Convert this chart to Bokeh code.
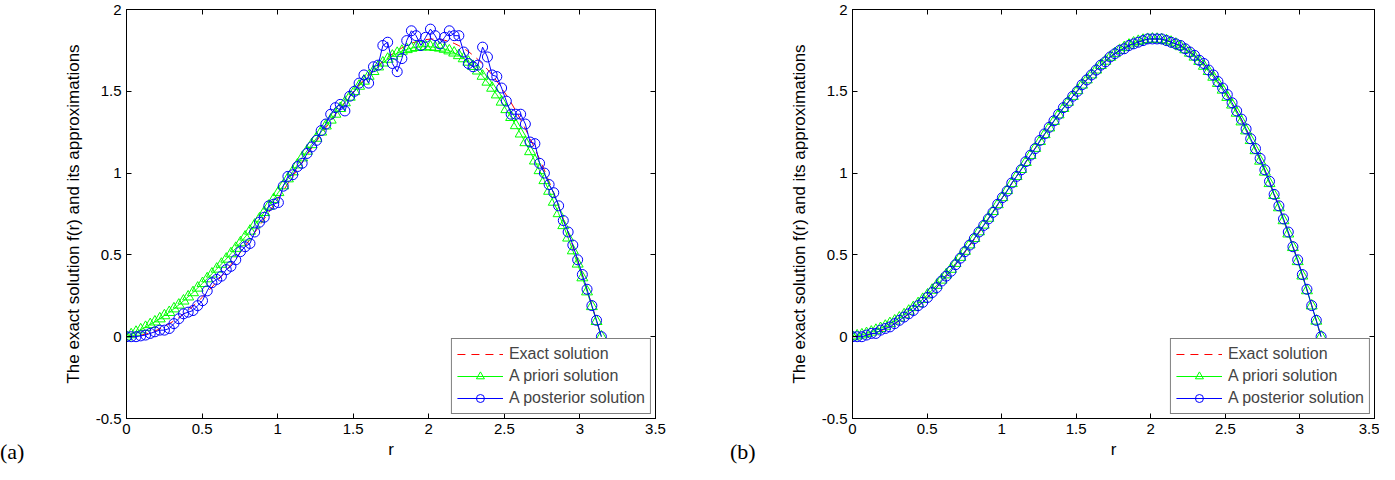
from bokeh.plotting import figure
from bokeh.models import (Range1d, LinearAxis, FixedTicker, Legend, LegendItem,
                          Div, CustomLabelingPolicy)
from bokeh.layouts import row, column
from bokeh.embed import file_html
from bokeh.resources import INLINE

# radial grid r (0 .. pi, 101 points)
r = [0.000, 0.031, 0.063, 0.094, 0.126, 0.157, 0.188, 0.220, 0.251, 0.283,
     0.314, 0.346, 0.377, 0.408, 0.440, 0.471, 0.503, 0.534, 0.565, 0.597,
     0.628, 0.660, 0.691, 0.723, 0.754, 0.785, 0.817, 0.848, 0.880, 0.911,
     0.942, 0.974, 1.005, 1.037, 1.068, 1.100, 1.131, 1.162, 1.194, 1.225,
     1.257, 1.288, 1.319, 1.351, 1.382, 1.414, 1.445, 1.477, 1.508, 1.539,
     1.571, 1.602, 1.634, 1.665, 1.696, 1.728, 1.759, 1.791, 1.822, 1.854,
     1.885, 1.916, 1.948, 1.979, 2.011, 2.042, 2.073, 2.105, 2.136, 2.168,
     2.199, 2.231, 2.262, 2.293, 2.325, 2.356, 2.388, 2.419, 2.450, 2.482,
     2.513, 2.545, 2.576, 2.608, 2.639, 2.670, 2.702, 2.733, 2.765, 2.796,
     2.827, 2.859, 2.890, 2.922, 2.953, 2.985, 3.016, 3.047, 3.079, 3.110,
     3.142]

exact = [0.000, 0.001, 0.004, 0.009, 0.016, 0.025, 0.035, 0.048, 0.063, 0.079,
         0.097, 0.117, 0.139, 0.162, 0.187, 0.214, 0.242, 0.272, 0.303, 0.336,
         0.369, 0.404, 0.441, 0.478, 0.516, 0.555, 0.595, 0.636, 0.678, 0.720,
         0.762, 0.805, 0.849, 0.892, 0.936, 0.980, 1.023, 1.067, 1.110, 1.153,
         1.195, 1.237, 1.278, 1.318, 1.358, 1.396, 1.434, 1.470, 1.505, 1.539,
         1.571, 1.601, 1.630, 1.658, 1.683, 1.707, 1.728, 1.748, 1.765, 1.780,
         1.793, 1.803, 1.811, 1.816, 1.819, 1.819, 1.817, 1.812, 1.804, 1.793,
         1.779, 1.762, 1.743, 1.720, 1.695, 1.666, 1.634, 1.600, 1.562, 1.521,
         1.477, 1.430, 1.380, 1.327, 1.271, 1.212, 1.150, 1.085, 1.018, 0.947,
         0.874, 0.798, 0.719, 0.637, 0.553, 0.467, 0.378, 0.287, 0.193, 0.098,
         0.000]

priori_a = [0.000, 0.013, 0.028, 0.043, 0.058, 0.075, 0.091, 0.110, 0.129, 0.149,
            0.171, 0.194, 0.219, 0.244, 0.270, 0.298, 0.326, 0.355, 0.384, 0.414,
            0.444, 0.475, 0.508, 0.541, 0.575, 0.610, 0.646, 0.683, 0.721, 0.760,
            0.799, 0.840, 0.882, 0.923, 0.966, 1.009, 1.051, 1.094, 1.135, 1.175,
            1.214, 1.252, 1.289, 1.325, 1.361, 1.396, 1.431, 1.465, 1.499, 1.532,
            1.563, 1.593, 1.622, 1.650, 1.674, 1.697, 1.716, 1.733, 1.746, 1.756,
            1.764, 1.769, 1.772, 1.773, 1.772, 1.769, 1.765, 1.758, 1.748, 1.735,
            1.719, 1.700, 1.679, 1.653, 1.625, 1.593, 1.557, 1.520, 1.479, 1.435,
            1.389, 1.341, 1.291, 1.240, 1.187, 1.132, 1.075, 1.016, 0.955, 0.890,
            0.823, 0.753, 0.680, 0.604, 0.526, 0.445, 0.361, 0.275, 0.185, 0.094,
            0.000]

posterior_a = [0.00, 0.00, 0.00, 0.005, 0.01, 0.02, 0.03, 0.04, 0.04, 0.05,
               0.08, 0.11, 0.14, 0.15, 0.16, 0.19, 0.22, 0.28, 0.33, 0.35,
               0.37, 0.41, 0.43, 0.47, 0.52, 0.55, 0.57, 0.64, 0.70, 0.73,
               0.80, 0.81, 0.82, 0.92, 0.98, 0.99, 1.04, 1.06, 1.12, 1.16,
               1.20, 1.26, 1.30, 1.36, 1.40, 1.42, 1.38, 1.47, 1.50, 1.55,
               1.60, 1.55, 1.65, 1.66, 1.78, 1.80, 1.67, 1.62, 1.70, 1.81,
               1.87, 1.84, 1.78, 1.83, 1.88, 1.84, 1.79, 1.83, 1.87, 1.84,
               1.84, 1.74, 1.67, 1.65, 1.66, 1.77, 1.71, 1.60, 1.59, 1.52,
               1.44, 1.36, 1.36, 1.36, 1.30, 1.19, 1.18, 1.06, 1.00, 0.93,
               0.88, 0.80, 0.71, 0.64, 0.56, 0.47, 0.38, 0.29, 0.19, 0.10,
               0.00]

priori_b = [0.000, 0.006, 0.012, 0.020, 0.029, 0.040, 0.051, 0.065, 0.081, 0.097,
            0.115, 0.135, 0.157, 0.179, 0.203, 0.229, 0.256, 0.285, 0.315, 0.347,
            0.379, 0.413, 0.449, 0.486, 0.523, 0.562, 0.601, 0.642, 0.683, 0.725,
            0.766, 0.808, 0.851, 0.894, 0.937, 0.980, 1.023, 1.066, 1.109, 1.152,
            1.194, 1.236, 1.277, 1.317, 1.357, 1.396, 1.434, 1.470, 1.505, 1.539,
            1.571, 1.601, 1.631, 1.659, 1.685, 1.709, 1.731, 1.751, 1.768, 1.783,
            1.796, 1.806, 1.813, 1.818, 1.820, 1.819, 1.816, 1.810, 1.801, 1.789,
            1.774, 1.755, 1.734, 1.710, 1.684, 1.654, 1.622, 1.587, 1.549, 1.508,
            1.464, 1.417, 1.367, 1.314, 1.259, 1.200, 1.138, 1.074, 1.007, 0.937,
            0.864, 0.789, 0.710, 0.629, 0.546, 0.460, 0.372, 0.282, 0.189, 0.096,
            0.000]

posterior_b = [0.00, 0.00, 0.00, 0.01, 0.02, 0.02, 0.04, 0.05, 0.06, 0.08,
               0.10, 0.12, 0.14, 0.16, 0.19, 0.21, 0.24, 0.27, 0.30, 0.34,
               0.37, 0.40, 0.44, 0.48, 0.52, 0.56, 0.60, 0.64, 0.68, 0.72,
               0.76, 0.81, 0.85, 0.89, 0.94, 0.98, 1.02, 1.07, 1.11, 1.15,
               1.20, 1.24, 1.28, 1.32, 1.36, 1.40, 1.43, 1.47, 1.50, 1.54,
               1.57, 1.60, 1.63, 1.66, 1.68, 1.71, 1.73, 1.75, 1.76, 1.78,
               1.79, 1.80, 1.81, 1.82, 1.82, 1.82, 1.82, 1.81, 1.80, 1.79,
               1.78, 1.76, 1.74, 1.72, 1.69, 1.67, 1.63, 1.60, 1.56, 1.52,
               1.48, 1.43, 1.38, 1.33, 1.27, 1.21, 1.15, 1.09, 1.02, 0.95,
               0.87, 0.80, 0.72, 0.64, 0.55, 0.47, 0.38, 0.29, 0.19, 0.10,
               0.00]

x_ticks = [0, 0.5, 1, 1.5, 2, 2.5, 3, 3.5]
x_tick_labels = ["0", "0.5", "1", "1.5", "2", "2.5", "3", "3.5"]
y_ticks = [-0.5, 0, 0.5, 1, 1.5, 2]
y_tick_labels = ["-0.5", "0", "0.5", "1", "1.5", "2"]

series_names = ["Exact solution", "A priori solution", "A posterior solution"]
y_label = "The exact solution f(r) and its approximations"
x_label = "r"
panel_tags = ["(a)", "(b)"]

FONT = "Liberation Sans"


def style_axis(ax, ticks, labels, show_labels=True):
    ax.ticker = FixedTicker(ticks=ticks)
    ax.minor_tick_line_color = None
    ax.major_tick_in = 5
    ax.major_tick_out = 0
    ax.axis_line_color = "black"
    ax.major_tick_line_color = "black"
    ax.major_label_text_font = FONT
    ax.major_label_text_color = "black"
    if show_labels:
        ax.major_label_overrides = {t: l for t, l in zip(ticks, labels)}
        ax.major_label_text_font_size = "15px"
        ax.major_label_standoff = 5
    else:
        ax.major_label_policy = CustomLabelingPolicy(code="")
        ax.major_label_text_font_size = "1px"
        ax.major_label_standoff = 0


def make_panel(priori, posterior, width, left, right):
    p = figure(width=width, height=464,
               x_range=Range1d(0, 3.5), y_range=Range1d(-0.5, 2),
               output_backend="svg", toolbar_location=None,
               min_border_left=left, min_border_right=right,
               min_border_top=9, min_border_bottom=46)
    p.xgrid.visible = False
    p.ygrid.visible = False
    p.outline_line_color = "black"
    p.outline_line_alpha = 1.0
    p.background_fill_color = "white"
    p.border_fill_color = "white"

    style_axis(p.xaxis[0], x_ticks, x_tick_labels)
    style_axis(p.yaxis[0], y_ticks, y_tick_labels)
    p.xaxis.axis_label = x_label
    p.yaxis.axis_label = y_label
    for ax in (p.xaxis[0], p.yaxis[0]):
        ax.axis_label_text_font = FONT
        ax.axis_label_text_font_size = "17px"
        ax.axis_label_text_font_style = "normal"
        ax.axis_label_text_color = "black"
    p.xaxis.axis_label_standoff = 3
    p.yaxis.axis_label_standoff = 10

    top = LinearAxis()
    style_axis(top, x_ticks, x_tick_labels, show_labels=False)
    p.add_layout(top, "above")
    rgt = LinearAxis()
    style_axis(rgt, y_ticks, y_tick_labels, show_labels=False)
    p.add_layout(rgt, "right")

    l_ex = p.line(r, exact, line_color="#ff0000", line_dash="8 6", line_width=1)
    l_pr = p.line(r, priori, line_color="#00ff00", line_width=1)
    s_pr = p.scatter(r, priori, marker="triangle", size=11, line_color="#00ff00",
                     fill_alpha=0, line_width=1)
    l_po = p.line(r, posterior, line_color="#0000ff", line_width=1)
    s_po = p.scatter(r, posterior, marker="circle", size=10, line_color="#0000ff",
                     fill_alpha=0, line_width=1)

    legend = Legend(items=[
        LegendItem(label=series_names[0], renderers=[l_ex]),
        LegendItem(label=series_names[1], renderers=[l_pr, s_pr]),
        LegendItem(label=series_names[2], renderers=[l_po, s_po]),
    ], location="bottom_right")
    legend.margin = 4
    legend.padding = 5
    legend.spacing = 2
    legend.glyph_width = 46
    legend.glyph_height = 20
    legend.label_height = 20
    legend.label_standoff = 6
    legend.label_text_font = FONT
    legend.label_text_font_size = "16px"
    legend.border_line_color = "black"
    legend.border_line_width = 1
    legend.background_fill_color = "white"
    legend.background_fill_alpha = 1.0
    p.add_layout(legend)
    return p


pa = make_panel(priori_a, posterior_a, 697, 126, 42)
pb = make_panel(priori_b, posterior_b, 682, 155, 3)

tags = Div(
    text=('<div style="position:relative;width:1379px;height:24px;'
          'font-family:\'Liberation Serif\';font-size:22px;line-height:24px;color:black;">'
          '<span style="position:absolute;left:0px;top:0px;">%s</span>'
          '<span style="position:absolute;left:730px;top:0px;">%s</span></div>')
    % (panel_tags[0], panel_tags[1]),
    width=1379, height=24, margin=(-24, 0, 0, 0))

layout = column(row(pa, pb, spacing=0), tags, spacing=0)
open("out.html", "w").write(file_html(layout, INLINE))
